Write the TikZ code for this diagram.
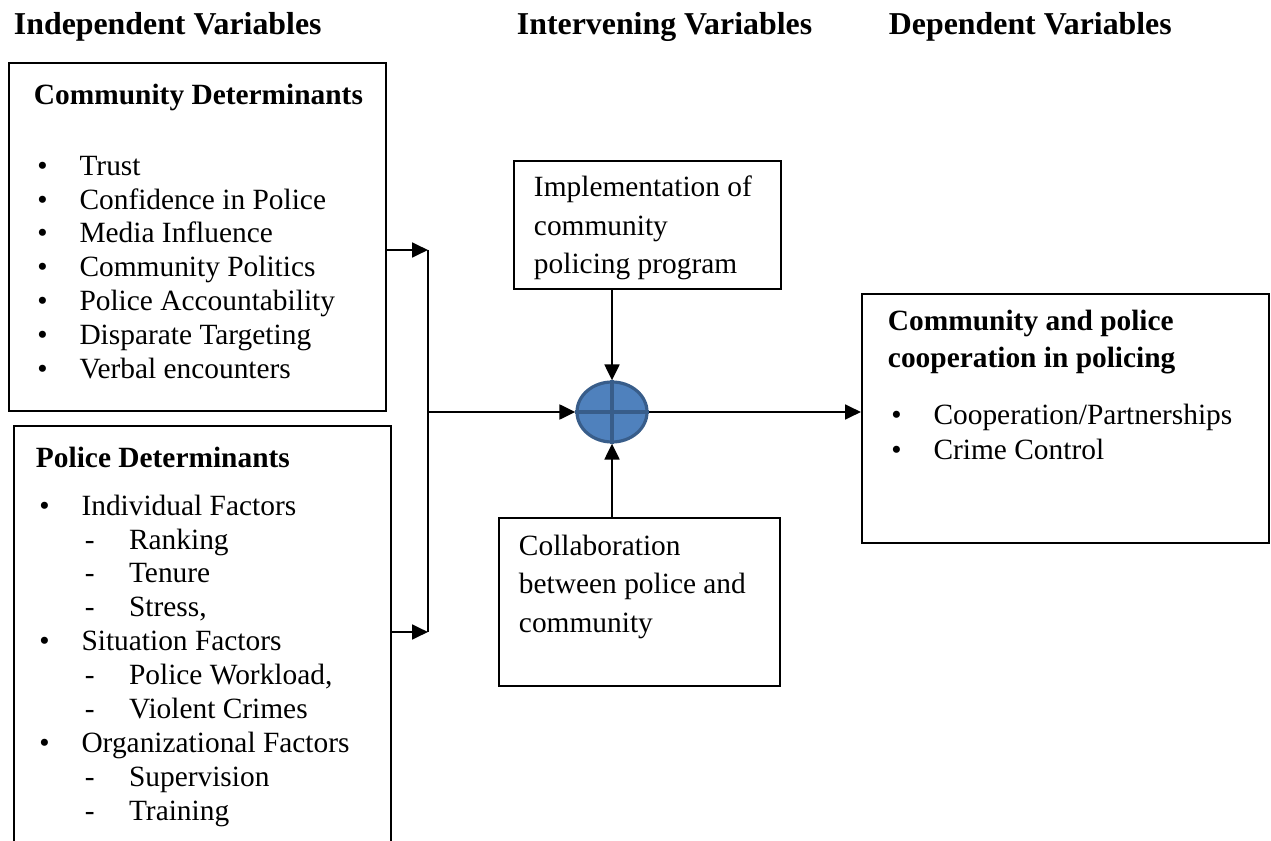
\documentclass[tikz,border=0pt]{standalone}
\usepackage{fontspec}
\setmainfont{Liberation Serif}
\usepackage{tikz}
\usetikzlibrary{arrows.meta,positioning,shapes.geometric}
\newcommand{\px}{0.4083pt}
\newcommand{\bul}[1]{\makebox[18.6pt][l]{\hspace{1.4pt}\textbullet}#1}
\newcommand{\dsh}[1]{\hspace*{20pt}\makebox[18pt][l]{-}#1}
\definecolor{sumfill}{RGB}{79,129,189}
\definecolor{sumline}{RGB}{56,93,138}

\begin{document}
\begin{tikzpicture}[x=\px,y=-\px,>={Triangle[length=6.5pt,width=6pt]},line width=0.8pt]
\tikzstyle{box}=[rectangle,draw,line width=0.8pt,anchor=north west,inner sep=0pt]
\tikzstyle{txt}=[anchor=base west,inner sep=0pt,font=\fontsize{12}{13.84}\selectfont]
\tikzstyle{hdr}=[anchor=base west,inner sep=0pt,font=\fontsize{13}{15}\selectfont\bfseries]
\tikzstyle{link}=[->,line width=1.1pt]
\tikzstyle{sum}=[ellipse,draw=sumline,fill=sumfill,line width=1.3pt,minimum width=70*\px,minimum height=60*\px,inner sep=0pt]
\useasboundingbox (0,0) rectangle (1271,841);

\node[hdr] (indep) at (13,35) {Independent Variables};
\node[hdr] (interv) at (516,35) {Intervening Variables};
\node[hdr] (dep) at (888,35) {Dependent Variables};

\node[box,minimum width=377*\px,minimum height=348*\px] (commdet) at (8,62) {};
\node[txt] (commtxt) at (33,105) {\begin{tabular}[t]{@{}l@{}}
  \textbf{Community Determinants}\\[14.8pt]
  \bul{Trust}\\ \bul{Confidence in Police}\\ \bul{Media Influence}\\
  \bul{Community Politics}\\ \bul{Police Accountability}\\
  \bul{Disparate Targeting}\\ \bul{Verbal encounters}\end{tabular}};

\node[box,minimum width=377*\px,minimum height=500*\px] (police) at (13,425) {};
\node[txt] (policetxt) at (35,467) {\begin{tabular}[t]{@{}l@{}}
  \textbf{Police Determinants}\\[5.8pt]
  \bul{Individual Factors}\\ \dsh{Ranking}\\ \dsh{Tenure}\\ \dsh{Stress,}\\
  \bul{Situation Factors}\\ \dsh{Police Workload,}\\ \dsh{Violent Crimes}\\
  \bul{Organizational Factors}\\ \dsh{Supervision}\\ \dsh{Training}\end{tabular}};

\node[box,minimum width=267*\px,minimum height=128*\px] (impl) at (513,160) {};
\node[txt,font=\fontsize{12}{15.7}\selectfont] (impltxt) at (533,197)
  {\begin{tabular}[t]{@{}l@{}}Implementation of\\community\\policing program\end{tabular}};

\node[box,minimum width=281*\px,minimum height=168*\px] (collab) at (498,517) {};
\node[txt,font=\fontsize{12}{15.9}\selectfont] (collabtxt) at (518,555)
  {\begin{tabular}[t]{@{}l@{}}Collaboration\\between police and\\community\end{tabular}};

\node[box,minimum width=407*\px,minimum height=249*\px] (outcome) at (861,293) {};
\node[txt,font=\fontsize{12}{14.3}\selectfont] (outcometxt) at (887,331)
  {\begin{tabular}[t]{@{}l@{}}\textbf{Community and police}\\[0.4pt]
  \textbf{cooperation in policing}\\[9pt]
  \bul{Cooperation/Partnerships}\\ \bul{Crime Control}\end{tabular}};

\node[sum] (sum) at (612,412) {};

\coordinate (jtop) at (428,250);
\coordinate (jbot) at (428,632);

\draw (jtop) -- (jbot);
\draw[link] (commdet.east |- jtop) -- (jtop);
\draw[link] (police.east |- jbot) -- (jbot);
\draw[link] (jtop |- sum) -- (sum.west);
\draw[link] (sum |- impl.south) -- (sum.north);
\draw[link] (sum |- collab.north) -- (sum.south);
\draw[link] (sum.east) -- (sum -| outcome.west);
\draw[sumline,line width=1.3pt] (sum.north) -- (sum.south) (sum.west) -- (sum.east);
\end{tikzpicture}
\end{document}
